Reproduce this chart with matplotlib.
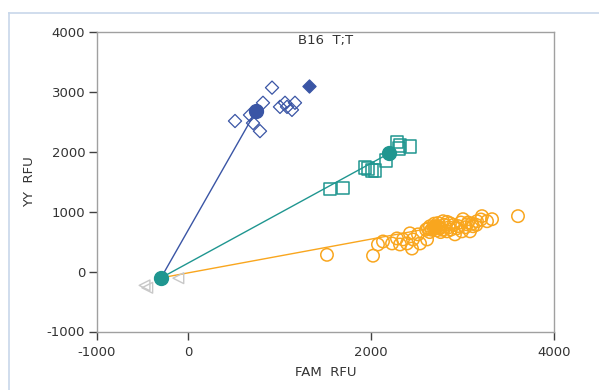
import matplotlib
matplotlib.use("Agg")
import matplotlib.pyplot as plt
from matplotlib.lines import Line2D

plt.rcParams["axes.unicode_minus"] = False

# ---- data ----
title = "B16  T;T"
xlabel = "FAM  RFU"
ylabel = "YY  RFU"
xticks = [-1000, 0, 2000, 4000]
yticks = [-1000, 0, 1000, 2000, 3000, 4000]

# allele 2 (YY) - blue diamonds
yy_x = [915, 816, 1002, 1057, 1166, 1133, 1079, 510, 707, 783, 674]
yy_y = [3071, 2818, 2750, 2818, 2818, 2700, 2750, 2514, 2480, 2345, 2615]
yy_fill_x = [1320]
yy_fill_y = [3105]
yy_cent = (740, 2682)

# heterozygous - teal squares
het_x = [1549, 1691, 1932, 1965, 2009, 2041, 2162, 2282, 2304, 2424, 2315]
het_y = [1382, 1399, 1736, 1720, 1686, 1686, 1855, 2159, 2057, 2091, 2108]
het_cent = (2195, 1973)

# allele 1 (FAM) - orange circles
fam_x = [1516, 2020, 2074, 2129, 2228, 2282, 2315, 2348, 2392, 2424, 2446, 2457,
         2512, 2534, 2611, 2643, 2862, 2938, 3004, 3048, 3081, 3157, 3212, 3267,
         3322, 3606, 2753, 2829, 2916, 2993, 3114, 2786,
         2620, 2660, 2700, 2720, 2750, 2780, 2800, 2690, 2640, 2730, 2850, 2870,
         2900, 2950, 2980, 3030, 3060, 3100, 3150, 3200, 2830, 2760, 2600, 2680]
fam_y = [280, 265, 453, 503, 470, 554, 453, 537, 470, 639, 385, 537,
         622, 470, 537, 757, 807, 723, 875, 790, 672, 841, 926, 841,
         875, 926, 723, 672, 622, 672, 757, 841,
         720, 700, 760, 690, 740, 700, 780, 800, 660, 810, 740, 700,
         780, 760, 820, 740, 820, 800, 780, 870, 830, 660, 700, 740]
fam_cent = (2700, 740)

# no template controls - gray triangles
ntc_x = [-480, -450, -110]
ntc_y = [-230, -270, -110]
ntc_cent = (-300, -105)

# ---- colors ----
c_blue = "#3a55a5"
c_teal = "#1f9690"
c_orange = "#f9a61e"
c_gray = "#c8c8c8"
c_text = "#333333"

fig = plt.figure(figsize=(5.99, 3.90), dpi=100)
ax = fig.add_axes([97/599, 1-331.5/390, (554-97)/599, (331.5-32)/390])

# lines from NTC centroid to cluster centroids
for (cx, cy), col in [(yy_cent, c_blue), (het_cent, c_teal), (fam_cent, c_orange)]:
    ax.plot([ntc_cent[0], cx], [ntc_cent[1], cy], color=col, lw=1.0, zorder=2)

ax.scatter(ntc_x, ntc_y, marker="<", s=60, facecolors="none",
           edgecolors=c_gray, linewidths=1.0, zorder=3)
ax.scatter(fam_x, fam_y, marker="o", s=80, facecolors="none",
           edgecolors=c_orange, linewidths=1.1, zorder=3)
ax.scatter(het_x, het_y, marker="s", s=80, facecolors="none",
           edgecolors=c_teal, linewidths=1.1, zorder=3)
ax.scatter(yy_x, yy_y, marker="D", s=45, facecolors="none",
           edgecolors=c_blue, linewidths=0.9, zorder=3)
ax.scatter(yy_fill_x, yy_fill_y, marker="D", s=45, facecolors=c_blue,
           edgecolors=c_blue, linewidths=0.9, zorder=3)

# centroids
ax.scatter([yy_cent[0]], [yy_cent[1]], marker="o", s=100, color=c_blue, zorder=4)
ax.scatter([het_cent[0]], [het_cent[1]], marker="o", s=100, color=c_teal, zorder=4)
ax.scatter([fam_cent[0]], [fam_cent[1]], marker="o", s=100, color=c_orange, zorder=4)
ax.scatter([ntc_cent[0]], [ntc_cent[1]], marker="o", s=100, color=c_teal, zorder=4)

ax.set_xlim(-1000, 4000)
ax.set_ylim(-1000, 4000)
ax.set_xticks(xticks)
ax.set_yticks(yticks)
ax.tick_params(direction="out", length=5.5, width=1, color="#404040",
               labelsize=9.5, labelcolor=c_text)
ax.tick_params(axis="x", pad=5)
ax.tick_params(axis="y", pad=3)
for sp in ax.spines.values():
    sp.set_color("#a0a0a0")
    sp.set_linewidth(1.0)

ax.text(0.5, 0.992, title, transform=ax.transAxes, ha="center", va="top",
        fontsize=9.5, color=c_text)
ax.set_xlabel(xlabel, fontsize=9.5, color=c_text, labelpad=5)
ax.set_ylabel(ylabel, fontsize=9.5, color=c_text, labelpad=8)

# light blue frame (left and top edges)
fig.add_artist(Line2D([9/599, 9/599], [0, 1-12.5/390], color="#c8d7ea", lw=1.2,
                      transform=fig.transFigure))
fig.add_artist(Line2D([9/599, 1], [1-12.5/390, 1-12.5/390], color="#c8d7ea", lw=1.2,
                      transform=fig.transFigure))

fig.savefig("out.png", dpi=100)
